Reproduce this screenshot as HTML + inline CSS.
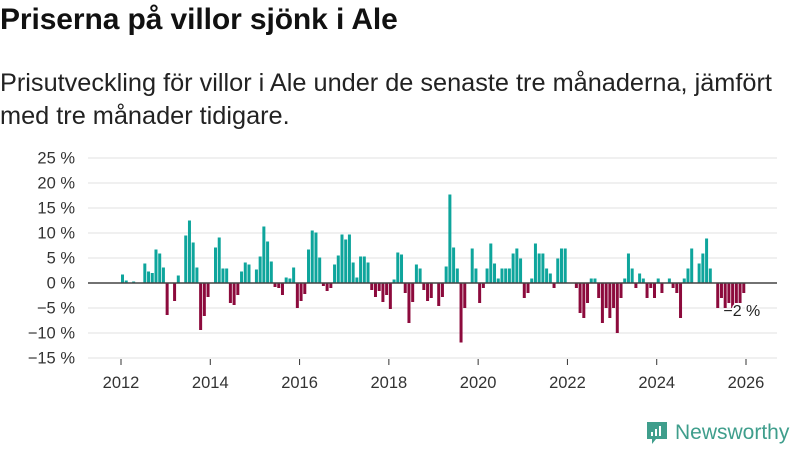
<!DOCTYPE html>
<html><head><meta charset="utf-8">
<style>
body{margin:0;width:800px;height:450px;background:#fff;font-family:"Liberation Sans",sans-serif;overflow:hidden;position:relative}
#title{position:absolute;left:0;top:3px;font-size:30px;font-weight:bold;color:#111;margin:0;letter-spacing:-0.1px}
#sub{position:absolute;left:0;top:67px;font-size:25.3px;line-height:33px;color:#222;width:795px}
svg{position:absolute;left:0;top:0}
</style></head><body>
<h1 id="title">Priserna på villor sjönk i Ale</h1>
<div id="sub">Prisutveckling för villor i Ale under de senaste tre månaderna, jämfört med tre månader tidigare.</div>
<svg id="chart" width="800" height="450"></svg>
<script>
const startYear = 2012;
const values = [1.7,0.5,0,0.3,0,0,3.9,2.3,2.0,6.7,5.9,3.1,
-6.4,0,-3.6,1.5,0,9.5,12.5,8.1,3.1,-9.4,-6.6,-2.8,
0,7.1,9.1,2.9,2.9,-4,-4.4,-2.4,2.3,4.1,3.7,0,
2.7,5.3,11.3,8.3,4.3,-0.8,-1.0,-2.4,1.1,0.9,3.1,-5.0,
-3.6,-2.2,6.7,10.5,10.1,5.1,-0.6,-1.6,-1.0,3.7,5.5,9.7,
8.7,9.7,4.1,1.1,5.3,5.3,4.1,-1.4,-2.8,-1.6,-3.8,-2.4,
-5.2,0.7,6.1,5.7,-2,-8,-3.8,3.7,2.9,-1.4,-3.6,-3.0,
0,-4.6,-2.8,3.3,17.7,7.1,2.9,-11.9,-5.0,0,6.9,2.9,
-4.0,-1.0,2.9,7.9,3.9,0.9,2.9,2.9,2.9,5.9,6.9,4.9,
-3,-2,0.9,7.9,5.9,5.9,2.9,1.9,-1.0,4.9,6.9,6.9,
0,0,-1.0,-6,-7,-4,0.9,0.9,-3,-8,-5,-7,
-5,-10,-3,0.9,5.9,2.9,-1,1.9,0.9,-3,-1,-3,
0.9,-2,0,0.9,-1,-2,-7,0.9,2.9,6.9,0,3.9,
5.9,8.9,2.9,0,-5,-3,-5,-4,-5,-4,-4,-2];
const yTicks = [25,20,15,10,5,0,-5,-10,-15];
const xTicks = [2012,2014,2016,2018,2020,2022,2024,2026];
const lastLabel = "−2 %";

const svg = document.getElementById('chart');
const NS = 'http://www.w3.org/2000/svg';
const x0 = 121, x1 = 746, y0 = 283, pxPer = 5;
const xScale = m => x0 + (x1 - x0) * m / 168;
const yScale = v => y0 - v * pxPer;
function mk(t, a){const e=document.createElementNS(NS,t);for(const k in a)e.setAttribute(k,a[k]);svg.appendChild(e);return e;}
yTicks.forEach(t=>{
  const g = mk('line',{x1:88,x2:777,y1:yScale(t),y2:yScale(t),stroke:'#e0e0e0','stroke-width':1});
  
  
  const tx = mk('text',{x:75,y:yScale(t)+5.5,'text-anchor':'end','font-size':16.5,fill:'#333','font-family':'Liberation Sans, sans-serif'});
  tx.textContent = (t<0?'−'+(-t):t)+' %';
  
  
});
xTicks.forEach(y=>{
  const xx = xScale((y-startYear)*12);
  const l = mk('line',{x1:xx,x2:xx,y1:359,y2:365,stroke:'#333','stroke-width':1});
  
  
  const tx = mk('text',{x:xx,y:388,'text-anchor':'middle','font-size':16.5,fill:'#333','font-family':'Liberation Sans, sans-serif'});
  tx.textContent = y;
  
  
});
values.forEach((v,i)=>{
  if(v===0) return;
  const r = mk('rect',{x:xScale(i),width:3,y:Math.min(yScale(v),y0),height:Math.abs(v)*pxPer,fill:v>0?'#0ea59c':'#8c0a3c'});
  
  
});
const zl = mk('line',{x1:88,x2:777,y1:y0,y2:y0,stroke:'#444','stroke-width':1.5});


const li = values.length-1;
const lb = mk('text',{x:xScale(li)+18,y:yScale(values[li])+23,'text-anchor':'end','font-size':16,fill:'#222',stroke:'#fff','stroke-width':3,'paint-order':'stroke','font-family':'Liberation Sans, sans-serif'});
lb.textContent = lastLabel;


</script>
<div style="position:absolute;left:645px;top:420px;display:flex;align-items:center">
<svg width="24" height="26" style="position:static"><path d="M2 2h20v17H11l-4 5v-5H2z" fill="#3f9e8c"/><rect x="6" y="12" width="2" height="4" fill="#fff"/><rect x="10" y="9" width="2" height="7" fill="#fff"/><rect x="14" y="6" width="2" height="10" fill="#fff"/></svg>
<span style="font-size:21px;color:#3f9e8c;margin-left:6px">Newsworthy</span></div>
</body></html>
